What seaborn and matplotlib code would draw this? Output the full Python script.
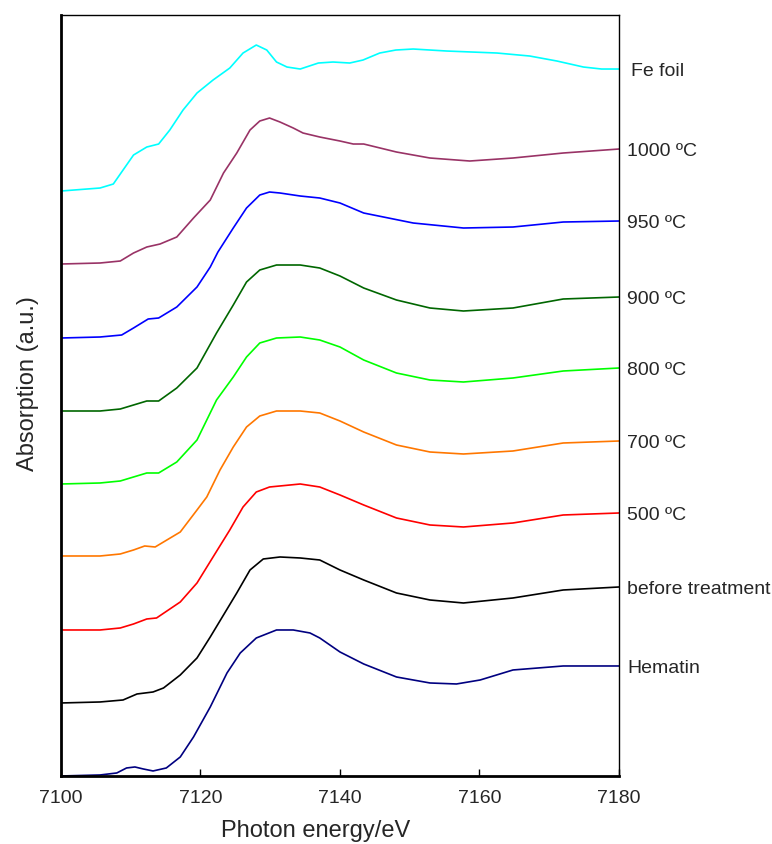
import numpy as np
import pandas as pd
import seaborn as sns
import matplotlib.pyplot as plt
import matplotlib.transforms as mtransforms

sns.set_style("white")
plt.rcParams['font.family'] = ['Liberation Sans', 'DejaVu Sans']

# spectra (energy in eV, absorption in arbitrary stacked units)
fe_foil_e = [7100, 7105.6, 7107.5, 7108.9, 7110.4, 7112.3, 7114.0, 7115.6, 7117.5, 7119.5,
             7121.8, 7124.2, 7126.1, 7128.0, 7129.5, 7130.9, 7132.4, 7134.3, 7136.9, 7139.0,
             7141.4, 7143.3, 7145.7, 7148.0, 7150.5, 7155.3, 7162.5, 7167.2, 7171.1, 7174.9,
             7177.5, 7180]
fe_foil_a = [585, 588, 592, 606, 621, 629, 632, 646, 666, 683,
             696, 708, 723, 731, 726, 714, 709, 707, 713, 714,
             713, 716, 723, 726, 727, 725, 723, 720, 715, 709,
             707, 707]

t1000_e = [7100, 7105.6, 7108.5, 7110.4, 7112.3, 7114.2, 7116.6, 7119.0, 7121.4, 7123.3,
           7125.2, 7127.1, 7128.5, 7129.9, 7131.4, 7133.3, 7134.7, 7137.1, 7140.0, 7141.9,
           7143.4, 7148.1, 7152.9, 7158.6, 7164.8, 7172.0, 7180]
t1000_a = [512, 513, 515, 523, 529, 532, 539, 558, 576, 603,
           623, 646, 655, 658, 654, 648, 643, 639, 635, 632,
           632, 624, 618, 615, 618, 623, 627]

t950_e = [7100, 7105.6, 7108.7, 7110.4, 7112.5, 7114.0, 7116.6, 7119.5, 7121.4, 7122.5,
          7124.7, 7126.6, 7128.5, 7129.9, 7131.4, 7134.3, 7137.1, 7140.0, 7143.4, 7150.5,
          7157.7, 7164.8, 7172.0, 7180]
t950_a = [438, 439, 441, 448, 457, 458, 469, 489, 509, 524,
          548, 568, 581, 584, 583, 580, 578, 573, 563, 553,
          548, 549, 554, 555]

t900_e = [7100, 7105.6, 7108.5, 7110.4, 7112.3, 7114.0, 7116.6, 7119.5, 7122.3, 7124.7,
          7126.6, 7128.5, 7130.9, 7134.3, 7137.1, 7140.0, 7143.4, 7148.1, 7152.9, 7157.7,
          7164.8, 7172.0, 7180]
t900_a = [365, 365, 367, 371, 375, 375, 388, 408, 443, 471,
          494, 506, 511, 511, 508, 500, 488, 476, 468, 465,
          468, 477, 479]

t800_e = [7100, 7105.6, 7108.5, 7110.4, 7112.3, 7114.0, 7116.6, 7119.5, 7122.3, 7124.7,
          7126.6, 7128.5, 7130.9, 7134.3, 7137.1, 7140.0, 7143.4, 7148.1, 7152.9, 7157.7,
          7164.8, 7172.0, 7180]
t800_a = [292, 293, 295, 299, 303, 303, 314, 336, 376, 399,
          419, 433, 438, 439, 436, 429, 416, 403, 396, 394,
          398, 405, 408]

t700_e = [7100, 7105.6, 7108.5, 7110.4, 7112.0, 7113.5, 7117.1, 7119.5, 7120.9, 7122.8,
          7124.7, 7126.6, 7128.5, 7130.9, 7134.3, 7137.1, 7140.0, 7143.4, 7148.1, 7152.9,
          7157.7, 7164.8, 7172.0, 7180]
t700_a = [220, 220, 222, 226, 230, 229, 244, 266, 279, 306,
          329, 349, 360, 365, 365, 363, 355, 344, 331, 324,
          322, 325, 333, 335]

t500_e = [7100, 7105.6, 7108.5, 7110.4, 7112.3, 7113.7, 7117.1, 7119.5, 7121.8, 7124.2,
          7126.1, 7128.0, 7129.9, 7134.3, 7137.1, 7140.0, 7143.4, 7148.1, 7152.9, 7157.7,
          7164.8, 7172.0, 7180]
t500_a = [146, 146, 148, 152, 157, 158, 174, 193, 219, 246,
          269, 284, 289, 292, 289, 281, 271, 258, 251, 249,
          253, 261, 263]

before_e = [7100, 7105.6, 7108.9, 7110.9, 7113.2, 7114.7, 7117.1, 7119.5, 7121.4, 7123.3,
            7125.2, 7127.1, 7129.0, 7131.4, 7134.3, 7137.1, 7140.0, 7143.4, 7148.1, 7152.9,
            7157.7, 7164.8, 7172.0, 7180]
before_a = [73, 74, 76, 82, 84, 88, 101, 118, 139, 161,
            183, 206, 217, 219, 218, 216, 206, 196, 183, 176,
            173, 178, 186, 189]

hematin_e = [7100, 7105.6, 7108.0, 7109.4, 7110.6, 7111.8, 7113.2, 7115.1, 7117.1, 7119.0,
             7121.4, 7123.8, 7125.7, 7128.0, 7130.9, 7133.3, 7135.7, 7137.1, 7140.0, 7143.4,
             7148.1, 7152.9, 7156.7, 7160.1, 7164.8, 7172.0, 7180]
hematin_a = [0, 1, 3, 8, 9, 7, 5, 8, 19, 39,
             69, 103, 123, 138, 146, 146, 143, 138, 124, 112,
             99, 93, 92, 96, 106, 110, 110]

labels = ['Fe foil', '1000 ºC', '950 ºC', '900 ºC', '800 ºC', '700 ºC', '500 ºC',
          'before treatment', 'Hematin']
colors = ['#00FFFF', '#993366', '#0000FF', '#006600', '#00FF00', '#FF7700', '#FF0000',
          '#000000', '#000080']
energies = [fe_foil_e, t1000_e, t950_e, t900_e, t800_e, t700_e, t500_e, before_e, hematin_e]
absorb = [fe_foil_a, t1000_a, t950_a, t900_a, t800_a, t700_a, t500_a, before_a, hematin_a]

fig = plt.figure(figsize=(7.72, 8.44), dpi=100)
ax = fig.add_axes([0.079, 0.0806, 0.7228, 0.9016])

trans = mtransforms.blended_transform_factory(ax.transAxes, ax.transData)
for name, col, e, a in zip(labels, colors, energies, absorb):
    sns.lineplot(x=e, y=a, color=col, lw=1.2, sort=False, estimator=None, ax=ax,
                 solid_joinstyle='round')
    ax.annotate(name, xy=(1.0, a[-1]), xycoords=trans, xytext=(9 if name == 'Fe foil' else 6, -2),
                textcoords='offset points', va='center', ha='left', fontsize=14,
                annotation_clip=False)

ax.set_xlim(7100, 7180)
ax.set_ylim(0, 761)
ax.set_xticks([7100, 7120, 7140, 7160, 7180])
ax.set_yticks([])
ax.tick_params(axis='x', direction='in', length=5, width=1, labelsize=14, pad=10,
               bottom=True, color='black')
ax.set_xlabel('Photon energy/eV', fontsize=17)
ax.set_ylabel('Absorption (a.u.)', fontsize=17)
ax.xaxis.set_label_coords(0.457, -0.058)
ax.yaxis.set_label_coords(-0.040, 0.516)

for side in ['left', 'bottom']:
    ax.spines[side].set_linewidth(2)
for side in ['top', 'right']:
    ax.spines[side].set_linewidth(1)
for s in ax.spines.values():
    s.set_color('black')

fig.savefig('out.png', dpi=100)
